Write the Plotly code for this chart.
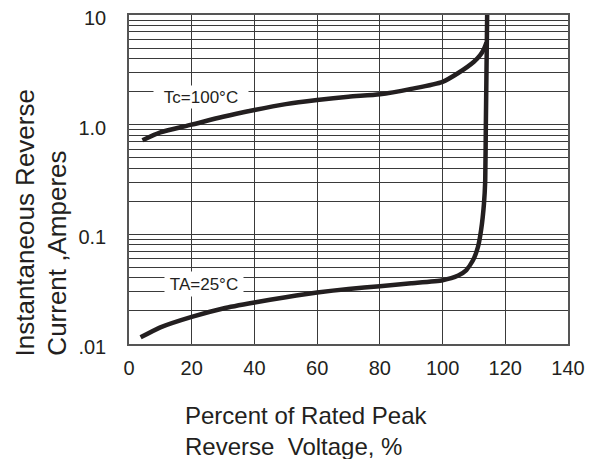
import plotly.graph_objects as go

# Tc = 100 °C curve
tc_x = [4.3, 10, 20, 30, 40, 50, 60, 70, 80, 90, 100, 105, 110, 112, 113.2, 114.0]
tc_y = [0.72, 0.85, 1.0, 1.18, 1.36, 1.54, 1.68, 1.80, 1.89, 2.12, 2.46, 2.96, 3.75, 4.3, 4.9, 5.6]

# TA = 25 °C curve
ta_x = [3.7, 10, 20, 30, 40, 50, 60, 70, 80, 90, 100, 105, 107.5, 109.7, 111.3, 112.3, 113.2, 113.6, 113.8, 114.25]
ta_y = [0.0115, 0.0142, 0.0177, 0.0211, 0.0239, 0.0267, 0.0295, 0.0318, 0.0337, 0.0358, 0.0382,
        0.0422, 0.047, 0.058, 0.077, 0.11, 0.19, 0.31, 1.0, 12.0]

y_tickvals = [0.01, 0.1, 1, 10]
y_ticktext = [".01", "0.1", "1.0", "10"]
x_tickvals = [0, 20, 40, 60, 80, 100, 120, 140]
y_minor = [m * d for d in (0.01, 0.1, 1) for m in range(2, 10)]

FONT = "Liberation Sans, Arial, sans-serif"
INK = "#231f20"
GRID = "#3a3a3a"

fig = go.Figure()
fig.add_trace(go.Scatter(x=tc_x, y=tc_y, mode="lines",
                         line=dict(color=INK, width=4.5, shape="spline", smoothing=0.7),
                         showlegend=False))
fig.add_trace(go.Scatter(x=ta_x, y=ta_y, mode="lines",
                         line=dict(color=INK, width=4.5, shape="spline", smoothing=0.5),
                         showlegend=False))

# page body adds an 8px offset, so the figure is 8px smaller on each side
fig.update_layout(
    width=586, height=451,
    margin=dict(l=121, r=26, t=7, b=115),
    paper_bgcolor="white", plot_bgcolor="white",
    font=dict(family=FONT, color=INK),
    showlegend=False,
)
fig.update_xaxes(
    range=[0, 140], tickvals=x_tickvals, automargin=False, ticklabeloverflow="allow",
    showgrid=True, gridcolor=GRID, gridwidth=1,
    showline=True, linecolor="#555555", linewidth=1.5, mirror=True,
    ticks="outside", ticklen=5, tickcolor="rgba(0,0,0,0)",
    tickfont=dict(size=20, family=FONT, color=INK), zeroline=False,
)
fig.update_yaxes(
    type="log", range=[-2, 1], tickvals=y_tickvals, ticktext=y_ticktext,
    automargin=False, ticklabeloverflow="allow", ticklabelshift=3,
    showgrid=True, gridcolor=GRID, gridwidth=1,
    minor=dict(tickvals=y_minor, showgrid=True, gridcolor=GRID, gridwidth=1, ticks=""),
    showline=True, linecolor="#555555", linewidth=1.5, mirror=True,
    ticks="outside", ticklen=17, tickcolor="rgba(0,0,0,0)",
    tickfont=dict(size=20, family=FONT, color=INK), zeroline=False,
)

# curve labels with white background (break the grid lines)
fig.add_annotation(x=23.0, y=0.25, xref="x", yref="y", text="Tc=100°C",
                   showarrow=False, bgcolor="white", width=92, height=20,
                   font=dict(size=17, family=FONT, color=INK))
fig.add_annotation(x=24.0, y=-1.4544, xref="x", yref="y", text="TA=25°C",
                   showarrow=False, bgcolor="white", width=76, height=22,
                   font=dict(size=17, family=FONT, color=INK))

# y-axis title (two lines)
fig.add_annotation(x=-0.237, y=-0.0426, xref="paper", yref="paper",
                   text="Instantaneous Reverse", textangle=-90, showarrow=False,
                   xanchor="center", yanchor="bottom",
                   font=dict(size=26, family=FONT, color=INK))
fig.add_annotation(x=-0.166, y=-0.0426, xref="paper", yref="paper",
                   text="Current ,Amperes", textangle=-90, showarrow=False,
                   xanchor="center", yanchor="bottom",
                   font=dict(size=26, family=FONT, color=INK))

# x-axis title (two lines)
fig.add_annotation(x=0.123, y=(344 - 415) / 329, xref="paper", yref="paper",
                   text="Percent of Rated Peak", showarrow=False,
                   xanchor="left", yanchor="middle",
                   font=dict(size=24, family=FONT, color=INK))
fig.add_annotation(x=0.123, y=(344 - 446) / 329, xref="paper", yref="paper",
                   text="Reverse\u00a0 Voltage, %", showarrow=False,
                   xanchor="left", yanchor="middle",
                   font=dict(size=24, family=FONT, color=INK))

fig.write_html("out.html")
